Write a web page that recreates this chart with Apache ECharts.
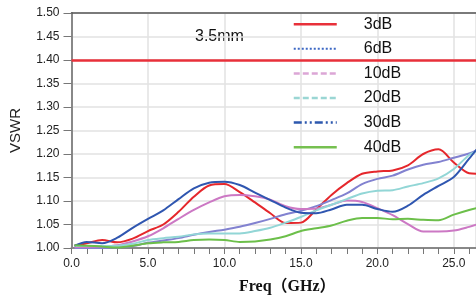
<!DOCTYPE html>
<html>
<head>
<meta charset="utf-8">
<script src="https://cdn.jsdelivr.net/npm/echarts@6/dist/echarts.min.js"></script>
<style>
  html, body { margin: 0; padding: 0; background: #fff; }
  #chart { width: 476px; height: 302px; }
</style>
</head>
<body>
<div id="chart"></div>
<script>
// 频率 (GHz)
var freq = [0.2, 1, 2, 3, 4, 5, 6, 7, 8, 9, 10, 11, 12, 13, 14, 15, 16, 17, 18, 19, 20, 21, 22, 23, 24, 25, 26, 26.5];

var vswr3dB  = [1.005, 1.010, 1.017, 1.012, 1.020, 1.036, 1.050, 1.077, 1.109, 1.133, 1.136, 1.119, 1.097, 1.074, 1.053, 1.054, 1.082, 1.113, 1.138, 1.158, 1.163, 1.165, 1.176, 1.200, 1.210, 1.182, 1.159, 1.158];
var vswr6dB  = [1.000, 1.000, 1.000, 1.001, 1.004, 1.011, 1.016, 1.021, 1.028, 1.034, 1.039, 1.045, 1.053, 1.062, 1.072, 1.079, 1.089, 1.102, 1.116, 1.136, 1.147, 1.154, 1.167, 1.177, 1.183, 1.192, 1.201, 1.208];
var vswr10dB = [1.002, 1.002, 1.003, 1.006, 1.014, 1.025, 1.042, 1.062, 1.081, 1.097, 1.110, 1.113, 1.110, 1.103, 1.089, 1.083, 1.084, 1.092, 1.101, 1.098, 1.085, 1.070, 1.051, 1.035, 1.035, 1.037, 1.045, 1.050];
var vswr20dB = [1.004, 1.004, 1.004, 1.005, 1.009, 1.017, 1.021, 1.024, 1.029, 1.031, 1.031, 1.031, 1.036, 1.043, 1.054, 1.066, 1.080, 1.092, 1.104, 1.116, 1.122, 1.123, 1.131, 1.138, 1.148, 1.168, 1.198, 1.206];
var vswr30dB = [1.005, 1.013, 1.010, 1.022, 1.043, 1.062, 1.080, 1.104, 1.127, 1.139, 1.141, 1.134, 1.118, 1.102, 1.086, 1.075, 1.074, 1.082, 1.092, 1.092, 1.083, 1.077, 1.090, 1.113, 1.132, 1.151, 1.190, 1.210];
var vswr40dB = [1.006, 1.005, 1.003, 1.001, 1.005, 1.010, 1.012, 1.013, 1.017, 1.018, 1.017, 1.013, 1.014, 1.018, 1.025, 1.036, 1.042, 1.048, 1.058, 1.064, 1.064, 1.061, 1.062, 1.060, 1.059, 1.071, 1.081, 1.085];

var names = ['3dB', '6dB', '10dB', '20dB', '30dB', '40dB'];
var limitLine = 1.40;

function pairs(ys) {
  var out = [];
  for (var i = 0; i < freq.length; i++) {
    out.push([freq[i], ys[i]]);
  }
  return out;
}

function lineSeries(name, ys, color) {
  return {
    name: name,
    type: 'line',
    data: pairs(ys),
    smooth: 0.3,
    symbol: 'none',
    lineStyle: { color: color, width: 2 },
    itemStyle: { color: color },
    z: 3
  };
}

var series = [
  lineSeries(names[0], vswr3dB, '#e5272c'),
  lineSeries(names[1], vswr6dB, '#8282d0'),
  lineSeries(names[2], vswr10dB, '#cc78c4'),
  lineSeries(names[3], vswr20dB, '#92d6d6'),
  lineSeries(names[4], vswr30dB, '#2f56b0'),
  lineSeries(names[5], vswr40dB, '#6cbf4a')
];
// 1.40 的红色水平线
series[0].markLine = {
  silent: true,
  symbol: 'none',
  label: { show: false },
  lineStyle: { color: '#e8303a', width: 2.5, type: 'solid' },
  data: [{ yAxis: limitLine }]
};

// 图例只画线, 不画圆点
var noDot = { color: 'transparent', borderColor: 'transparent', borderWidth: 0, opacity: 0 };

var chart = echarts.init(document.getElementById('chart'));

var option = {
  animation: false,
  backgroundColor: '#fff',
  grid: { left: 71.5, right: 0, top: 13, height: 235 },
  legend: {
    orient: 'vertical',
    left: 287.5,
    top: 11.2,
    icon: 'inherit',
    itemWidth: 43,
    itemHeight: 14,
    itemGap: 8.6,
    itemStyle: noDot,
    textStyle: { fontFamily: 'Arial, "Liberation Sans"', fontSize: 16, color: '#111', padding: [0, 0, 0, 22] },
    data: [
      { name: '3dB', itemStyle: noDot, lineStyle: { color: '#e8303a', width: 2.5, type: 'solid' } },
      { name: '6dB', itemStyle: noDot, lineStyle: { color: '#3d68c4', width: 2, type: 'dotted' } },
      { name: '10dB', itemStyle: noDot, lineStyle: { color: '#dca6d6', width: 2.5, type: [6, 3] } },
      { name: '20dB', itemStyle: noDot, lineStyle: { color: '#9ad6d4', width: 2.5, type: [6, 3] } },
      { name: '30dB', itemStyle: noDot, lineStyle: { color: '#2d58ae', width: 2.5, type: [8, 3, 2, 3, 2, 3] } },
      { name: '40dB', itemStyle: noDot, lineStyle: { color: '#76c050', width: 2.5, type: 'solid' } }
    ]
  },
  xAxis: [{
    type: 'value',
    min: 0,
    max: 26.45,
    interval: 5,
    axisLine: { show: true, lineStyle: { color: '#888', width: 2 } },
    axisTick: { show: true, length: 6, lineStyle: { color: '#777', width: 1 } },
    minorTick: { show: true, splitNumber: 5, length: 6, lineStyle: { color: '#777', width: 1 } },
    axisLabel: {
      margin: 10,
      color: '#222',
      fontFamily: 'Arial, "Liberation Sans"',
      fontSize: 12,
      showMaxLabel: false,
      formatter: function (v) { return v.toFixed(1); }
    },
    splitLine: { show: true, lineStyle: { color: '#e2e2e2', width: 1.5 } }
  }, {
    type: 'value',
    position: 'top',
    min: 0,
    max: 26.45,
    axisLine: { show: true, lineStyle: { color: '#555', width: 1.5 } },
    axisTick: { show: false },
    axisLabel: { show: false },
    splitLine: { show: false }
  }],
  yAxis: {
    type: 'value',
    min: 1,
    max: 1.5,
    interval: 0.05,
    name: 'VSWR',
    nameLocation: 'middle',
    nameGap: 48,
    nameTextStyle: { fontFamily: 'Arial, "Liberation Sans"', fontSize: 15, color: '#222' },
    axisLine: { show: true, lineStyle: { color: '#888', width: 2 } },
    axisTick: { show: true, length: 8, lineStyle: { color: '#777', width: 1 } },
    axisLabel: {
      margin: 12,
      color: '#222',
      fontFamily: 'Arial, "Liberation Sans"',
      fontSize: 12,
      formatter: function (v) { return v.toFixed(2); }
    },
    splitLine: { show: true, lineStyle: { color: '#e2e2e2', width: 1.5 } }
  },
  graphic: [{
    type: 'text',
    left: 195,
    top: 29,
    style: { text: '3.5mm', font: '16px Arial, "Liberation Sans"', fill: '#111' }
  }, {
    type: 'text',
    left: 239,
    top: 279,
    style: { text: 'Freq（GHz）', font: 'bold 16px "Times New Roman", "Liberation Serif", "Noto Sans CJK SC"', fill: '#111' }
  }],
  series: series
};

chart.setOption(option);
</script>
</body>
</html>
